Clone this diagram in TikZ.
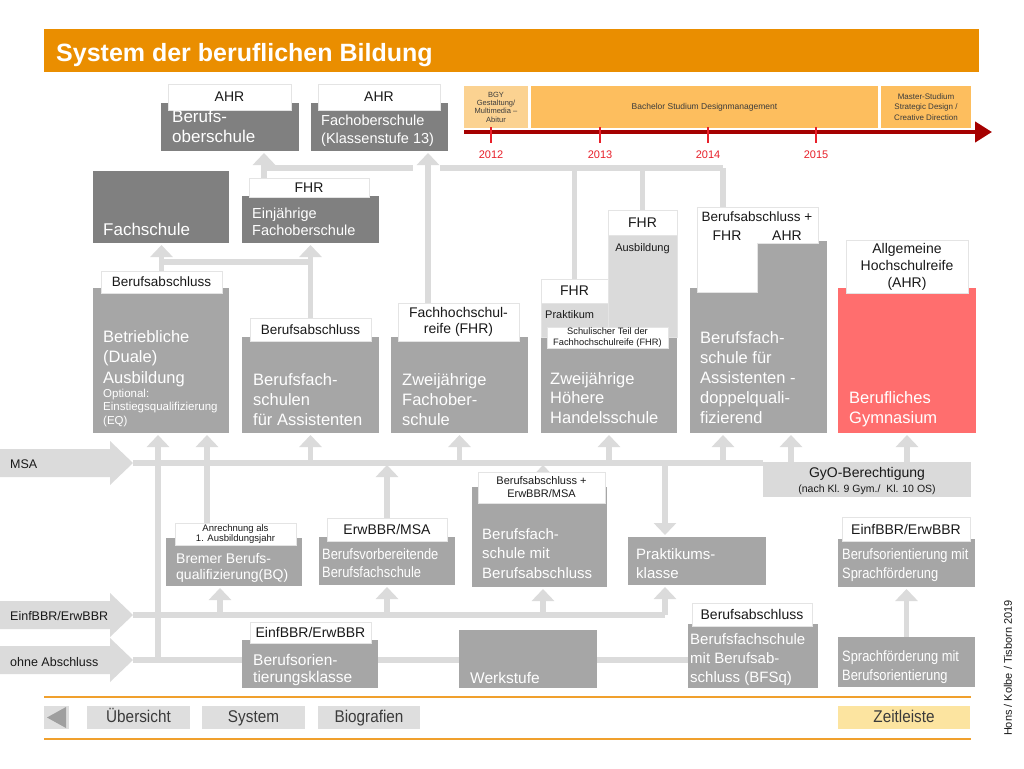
\documentclass[tikz,border=0pt]{standalone}
\usepackage{fontspec}
\setmainfont{Liberation Sans}
\newfontfamily\narrowfont[FakeStretch=0.86]{Liberation Sans}
\newfontfamily\navfont[FakeStretch=0.9]{Liberation Sans}
\usetikzlibrary{arrows.meta}
\pgfdeclarelayer{bg}
\pgfsetlayers{bg,main}
\definecolor{orangeT}{RGB}{234,142,0}
\definecolor{dgray}{RGB}{128,128,128}
\definecolor{mgray}{RGB}{166,166,166}
\definecolor{lgray}{RGB}{218,218,218}
\definecolor{conn}{RGB}{219,219,219}
\definecolor{redbox}{RGB}{255,110,110}
\definecolor{tlred}{RGB}{165,0,0}
\definecolor{yearred}{RGB}{232,32,42}
\definecolor{tlpale}{RGB}{251,210,145}
\definecolor{tlorange}{RGB}{253,190,94}
\definecolor{navyel}{RGB}{252,228,160}
\definecolor{navg}{RGB}{222,222,222}
\definecolor{navline}{RGB}{240,160,45}
\definecolor{txt}{RGB}{25,25,25}
\definecolor{labedge}{RGB}{228,228,228}
\newcommand\fs[2]{\fontsize{#1}{#2}\selectfont}
\newcommand\BOX[6]{\node[#1, minimum width={#5-#3}, minimum height={#6-#4}] (#2) at (#3,#4) {};}
\newcommand\LAB[8]{\node[#1, minimum width={#5-#3}, minimum height={#6-#4}, font=#7] (#2) at (#3,#4) {#8};}
\tikzset{
  bx/.style={inner sep=0, outer sep=0, anchor=north west},
  dbox/.style={bx, fill=dgray},
  mbox/.style={bx, fill=mgray},
  lbox/.style={bx, fill=lgray, draw=labedge, line width=1},
  wlab/.style={bx, fill=white, draw=labedge, line width=0.8, align=center, text=txt},
  tlp/.style={bx, fill=tlpale, align=center, text=txt!85},
  tlo/.style={bx, fill=tlorange, align=center, text=txt!85},
  navb/.style={bx, fill=navg, text=txt!85, align=center, text height=12pt, text depth=3pt},
  wtxt/.style={anchor=base west, align=left, inner sep=0, text=white},
  ktxt/.style={anchor=base west, align=left, inner sep=0, text=txt},
  ctxt/.style={anchor=base, align=center, inner sep=0, text=txt},
  cline/.style={draw=conn, line width=5.5},
  carrow/.style={cline, shorten >=2pt, -{Triangle[width=22pt,length=12pt]}},
}
\begin{document}
\begin{tikzpicture}[x=1pt,y=-1pt]
\useasboundingbox (0,0) rectangle (1024,768);
\begin{pgfonlayer}{bg}
\fill[white] (0,0) rectangle (1024,768);
\end{pgfonlayer}

% ---------- title
\BOX{bx, fill=orangeT}{titlebar}{44}{29}{979}{72}
\node[anchor=base west, inner sep=0, text=white, font=\bfseries\fs{25}{30}] (title) at (56,61) {System der beruflichen Bildung};

% ---------- timeline
\LAB{tlp}{bgy}{464}{86}{528}{128}{\fs{7.5}{8.3}}{BGY\\Gestaltung/\\Multimedia --\\Abitur}
\LAB{tlo}{bach}{531}{86}{878}{128}{\fs{8.5}{10}}{Bachelor Studium Designmanagement}
\LAB{tlo}{mast}{881}{86}{971}{128}{\fs{8}{10.5}}{Master-Studium\\Strategic Design /\\Creative Direction}
\coordinate (tlS) at (464,132);
\coordinate (tlE) at (992,132);
\draw[tlred, line width=4.5, -{Triangle[width=20pt,length=17pt]}] (tlS) -- (tlE);
\foreach \x/\yr in {491/2012, 600/2013, 708/2014, 816/2015}{
  \draw[yearred, line width=2] (\x,127) -- (\x,143);
  \node[font=\fs{11}{13}, text=yearred, anchor=base, inner sep=0] (yr\yr) at (\x,158) {\yr};
}

% ---------- named coordinates for connectors
\coordinate (jA) at (264,168);
\coordinate (jB) at (413,168);
\coordinate (jC) at (440,168);
\coordinate (jD) at (723,168);
\coordinate (jE) at (162,262);
\coordinate (jF) at (310,262);
\coordinate (x428) at (428,0);
\coordinate (dqLtop) at (723,207);
\coordinate (msaS) at (133,463);
\coordinate (msaE) at (763,463);
\coordinate (einS) at (133,615);
\coordinate (einE) at (665,615);
\coordinate (ohS) at (133,660);
\coordinate (ohE) at (688,660);
\coordinate (x158) at (158,0);
\coordinate (x207) at (207,0);
\coordinate (x220) at (220,0);
\coordinate (x543) at (543,0);
\coordinate (x665) at (665,0);
\coordinate (x723) at (723,0);
\coordinate (x791) at (791,0);

% row 1
\BOX{dbox}{bos}{161}{103}{299}{151}
\BOX{dbox}{fos13}{311}{103}{448}{151}
% row 2
\BOX{dbox}{fs}{93}{171}{229}{243}
\BOX{dbox}{ejf}{242}{196}{379}{243}
% row 3
\BOX{mbox}{betr}{93}{288}{229}{433}
\BOX{mbox}{bfs}{242}{337}{379}{433}
\BOX{mbox}{zfs}{391}{337}{528}{433}
\BOX{mbox}{hhs}{541}{337}{677}{433}
\BOX{lbox}{prak}{541}{303}{608}{337}
\BOX{lbox}{ausb}{608}{235}{677}{337}
\BOX{mbox}{dq}{690}{288}{827}{433}
\BOX{mbox}{dqR}{757}{241}{827}{288}
\BOX{bx, fill=redbox}{bg}{838}{288}{976}{433}
% middle / bottom
\BOX{bx, fill=lgray}{gyo}{763}{462}{971}{497}
\BOX{mbox}{bq}{166}{538}{302}{586}
\BOX{mbox}{bv}{319}{537}{455}{585}
\BOX{mbox}{bsm}{472}{487}{607}{587}
\BOX{mbox}{pk}{628}{537}{766}{585}
\BOX{mbox}{bo}{838}{539}{975}{587}
\BOX{mbox}{bok}{242}{640}{378}{688}
\BOX{mbox}{ws}{459}{630}{597}{688}
\BOX{mbox}{bfsq}{688}{624}{818}{688}
\BOX{mbox}{spf}{838}{637}{975}{687}

% labels
\LAB{wlab}{bosL}{168}{84}{291}{110}{\fs{14}{16}}{AHR}
\LAB{wlab}{fos13L}{318}{84}{440}{110}{\fs{14}{16}}{AHR}
\LAB{wlab}{ejfL}{249}{178}{369}{197}{\fs{14}{16}}{FHR}
\LAB{wlab}{betrL}{101}{271}{222}{293}{\fs{13.5}{16}}{Berufsabschluss}
\LAB{wlab}{bfsL}{250}{318}{371}{341}{\fs{13.5}{16}}{Berufsabschluss}
\LAB{wlab}{zfsL}{398}{303}{519}{341}{\fs{14}{15.5}}{Fachhochschul-\\reife (FHR)}
\LAB{wlab}{prakL}{541}{279}{608}{303}{\fs{14}{16}}{FHR}
\LAB{wlab}{ausbL}{608}{210}{677}{235}{\fs{14}{16}}{FHR}
\LAB{wlab}{schulL}{547}{327}{668}{348}{\fs{9.3}{10.8}}{Schulischer Teil der\\Fachhochschulreife (FHR)}
\path[fill=white, draw=labedge, line width=0.8] (697,207) -- (818,207) -- (818,243) -- (757,243) -- (757,292) -- (697,292) -- cycle;
\node[ctxt, font=\fs{13.5}{16}] (dqL1) at (757,221) {Berufsabschluss +};
\node[ctxt, font=\fs{14}{16}] (dqL2) at (727,240) {FHR};
\node[ctxt, font=\fs{14}{16}] (dqL3) at (787,240) {AHR};
\LAB{wlab}{bgL}{846}{240}{968}{293}{\fs{14}{17}}{Allgemeine\\Hochschulreife\\(AHR)}
\LAB{wlab}{bqL}{175}{523}{296}{545}{\fs{9.5}{10.5}}{Anrechnung als\\1. Ausbildungsjahr}
\LAB{wlab}{bvL}{327}{518}{447}{541}{\fs{14}{16}}{ErwBBR/MSA}
\LAB{wlab}{bsmL}{478}{472}{605}{503}{\fs{11}{13}}{Berufsabschluss +\\ErwBBR/MSA}
\LAB{wlab}{boL}{842}{517}{970}{541}{\fs{14}{16}}{EinfBBR/ErwBBR}
\LAB{wlab}{bokL}{250}{622}{371}{643}{\fs{14}{16}}{EinfBBR/ErwBBR}
\LAB{wlab}{bfsqL}{692}{603}{812}{626}{\fs{14}{16}}{Berufsabschluss}

% ---------- connectors (background layer)
\begin{pgfonlayer}{bg}
\draw[cline] (jA) -- (jB);
\draw[carrow] (ejfL.north -| jA) -- (bos.south -| jA);
\draw[carrow] (zfsL.north -| x428) -- (fos13.south -| x428);
\draw[cline] (jC) -- (jD);
\draw[cline] (jC -| prakL.north) -- (prakL.north);
\draw[cline] (jC -| ausbL.north) -- (ausbL.north);
\draw[cline] (jD) -- (dqLtop);
\draw[cline] (jE) -- (jF);
\draw[carrow] (betrL.north) -- (betrL.north |- fs.south);
\draw[carrow] (bfsL.north) -- (bfsL.north |- ejf.south);
% entry arrows
\fill[conn] (0,449) -- (110,449) -- (110,441) -- (msaS) -- (110,485) -- (110,477) -- (0,477) -- cycle;
\fill[conn] (0,601) -- (110,601) -- (110,593) -- (einS) -- (110,637) -- (110,629) -- (0,629) -- cycle;
\fill[conn] (0,646) -- (110,646) -- (110,638) -- (ohS) -- (110,682) -- (110,674) -- (0,674) -- cycle;
\draw[cline] (msaS) -- (msaE);
\draw[cline] (einS) -- (einE);
\draw[cline] (ohS) -- (ohE);
% up to row 3
\draw[carrow] (ohS -| x158) -- (betr.south -| x158);
\draw[carrow] (bqL.north -| x207) -- (betr.south -| x207);
\draw[carrow] (msaS -| bfs.south) -- (bfs.south);
\draw[carrow] (msaS -| zfs.south) -- (zfs.south);
\draw[carrow] (msaS -| hhs.south) -- (hhs.south);
\draw[carrow] (msaS -| x723) -- (dq.south -| x723);
\draw[carrow] (gyo.north -| x791) -- (dq.south -| x791);
\draw[carrow] (gyo.north -| bg.south) -- (bg.south);
% middle row
\draw[carrow] (bvL.north) -- (bvL.north |- msaS);
\draw[carrow] (bsmL.north -| x543) -- (msaS -| x543);
\draw[carrow] (msaS -| x665) -- (pk.north -| x665);
\draw[carrow] (einS -| x220) -- (bq.south -| x220);
\draw[carrow] (einS -| bv.south) -- (bv.south);
\draw[carrow] (einS -| x543) -- (bsm.south -| x543);
\draw[carrow] (einE) -- (pk.south -| x665);
\draw[carrow] (spf.north) -- (bo.south);
\end{pgfonlayer}

% ---------- texts in boxes (anchor = baseline of the last line)
\node[wtxt, font=\fs{17}{20}] (bosT) at (172,142) {Berufs-\\oberschule};
\node[wtxt, font=\fs{14.5}{18}] (fos13T) at (321,143) {Fachoberschule\\(Klassenstufe 13)};
\node[wtxt, font=\fs{17}{20}] (fsT) at (103,235) {Fachschule};
\node[wtxt, font=\fs{14.5}{17}] (ejfT) at (252,235) {Einjährige\\Fachoberschule};
\node[wtxt, font=\fs{16.5}{20.5}] (betrT) at (103,383) {Betriebliche\\(Duale)\\Ausbildung};
\node[wtxt, font=\fs{11.5}{13.5}] (betrT2) at (103,424) {Optional:\\Einstiegsqualifizierung\\(EQ)};
\node[wtxt, font=\fs{16.5}{20}] (bfsT) at (253,425) {Berufsfach-\\schulen\\für Assistenten};
\node[wtxt, font=\fs{16.5}{20}] (zfsT) at (402,425) {Zweijährige\\Fachober-\\schule};
\node[wtxt, font=\fs{16.5}{19.5}] (hhsT) at (550,423) {Zweijährige\\Höhere\\Handelsschule};
\node[ktxt, font=\fs{11}{13}] (prakT) at (545,318) {Praktikum};
\node[ctxt, font=\fs{11}{13}] (ausbT) at (642.5,251) {Ausbildung};
\node[wtxt, font=\fs{16.5}{20}] (dqT) at (700,423) {Berufsfach-\\schule für\\Assistenten -\\doppelquali-\\fizierend};
\node[wtxt, font=\fs{16.5}{20}] (bgT) at (849,423) {Berufliches\\Gymnasium};
\node[ctxt, font=\fs{14}{16}] (gyoT1) at (867,477) {GyO-Berechtigung};
\node[ctxt, font=\fs{10.5}{12}] (gyoT2) at (867,492) {(nach Kl. 9 Gym./\ \ Kl. 10 OS)};
\node[wtxt, font=\fs{14}{16}] (bqT) at (176,579) {Bremer Berufs-\\qualifizierung(BQ)};
\node[wtxt, font=\narrowfont\fs{15}{18}] (bvT) at (322,577) {Berufsvorbereitende\\Berufsfachschule};
\node[wtxt, font=\fs{15}{19.5}] (bsmT) at (482,578) {Berufsfach-\\schule mit\\Berufsabschluss};
\node[wtxt, font=\fs{15}{19}] (pkT) at (636,578) {Praktikums-\\klasse};
\node[wtxt, font=\narrowfont\fs{15}{19}] (boT) at (842,578) {Berufsorientierung mit\\Sprachförderung};
\node[wtxt, font=\fs{15.5}{17}] (bokT) at (253,682) {Berufsorien-\\tierungsklasse};
\node[wtxt, font=\fs{15.5}{18}] (wsT) at (470,683) {Werkstufe};
\node[wtxt, font=\fs{15}{19}] (bfsqT) at (690,682) {Berufsfachschule\\mit Berufsab-\\schluss (BFSq)};
\node[wtxt, font=\narrowfont\fs{15}{19}] (spfT) at (842,680) {Sprachförderung mit\\Berufsorientierung};

% entry texts
\node[ktxt, font=\fs{12.5}{14}] (msaT) at (10,468) {MSA};
\node[ktxt, font=\fs{12.5}{14}] (einT) at (10,620) {EinfBBR/ErwBBR};
\node[ktxt, font=\fs{12.5}{14}] (ohT) at (10,666) {ohne Abschluss};

% ---------- navigation
\coordinate (nl1a) at (44,697);
\coordinate (nl1b) at (971,697);
\coordinate (nl2a) at (44,739);
\coordinate (nl2b) at (971,739);
\draw[navline, line width=1.5] (nl1a) -- (nl1b);
\draw[navline, line width=1.5] (nl2a) -- (nl2b);
\BOX{bx, fill=navg}{navback}{44}{706}{69}{729}
\fill[gray!75] (47,717.5) -- (66,707) -- (66,728) -- cycle;
\LAB{navb}{nUeb}{87}{706}{190}{729}{\navfont\fs{17}{18}}{Übersicht}
\LAB{navb}{nSys}{202}{706}{305}{729}{\navfont\fs{17}{18}}{System}
\LAB{navb}{nBio}{318}{706}{420}{729}{\navfont\fs{17}{18}}{Biografien}
\LAB{navb, fill=navyel}{nZeit}{838}{706}{970}{729}{\navfont\fs{17}{18}}{Zeitleiste}

\node[rotate=90, font=\fs{11}{13}, text=txt, inner sep=0] (hons) at (1008,668) {Hons / Kolbe / Tisborn 2019};
\end{tikzpicture}
\end{document}
